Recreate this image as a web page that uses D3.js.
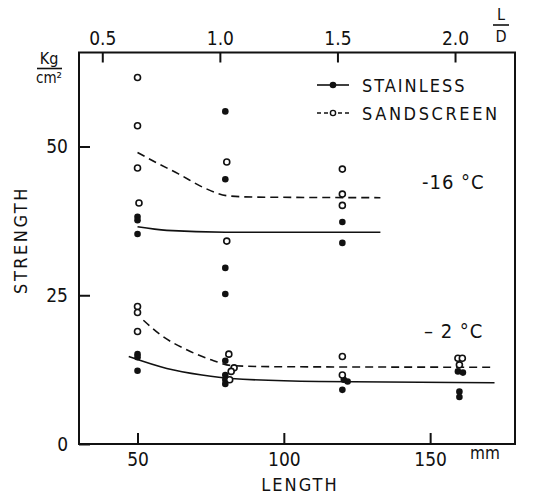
<!DOCTYPE html>
<html>
<head>
<meta charset="utf-8">
<script src="https://cdn.jsdelivr.net/npm/d3@7"></script>
<style>
  body { margin: 0; background: #fff; }
  svg text { font-family: "DejaVu Sans Condensed", "Liberation Sans Narrow", "DejaVu Sans", sans-serif; fill: #111; }
</style>
</head>
<body>
<svg id="chart" width="534" height="496"></svg>
<script>
// measured points, [length mm, strength kg/cm2]
const stainless = [
  [50, 38.2], [50, 37.6], [50, 35.3], [50, 15.1], [50, 14.6], [50, 12.3],
  [80, 55.9], [80, 44.5], [80, 29.6], [80, 25.2], [80, 14.0], [80, 11.6], [80, 10.8], [80, 10.1],
  [120, 37.3], [120, 33.8], [120.5, 10.8], [121.8, 10.5], [120, 9.1],
  [159.5, 12.2], [161.2, 12.0], [160, 8.8], [160, 7.9]
];
const sandscreen = [
  [50, 61.6], [50, 53.5], [50, 46.4], [50.5, 40.5], [50, 23.1], [50, 22.1], [50, 18.9],
  [80.5, 47.4], [80.5, 34.1], [81.2, 15.1], [83, 12.8], [82, 12.2], [81.5, 10.8],
  [120, 46.2], [120, 42.0], [120, 40.1], [120, 14.7], [120, 11.6],
  [159.5, 14.4], [161, 14.4], [160, 13.3]
];
// hand drawn fitted curves
const stainless16 = [[50, 36.5], [60, 35.9], [80, 35.6], [133, 35.6]];
const sandscreen16 = [[50, 49.0], [56, 47.4], [64, 45.4], [73, 43.0], [81, 41.7], [90, 41.5], [133, 41.4]];
const stainless2 = [[47, 14.7], [60, 12.7], [72, 11.6], [82, 11.0], [112, 10.5], [172, 10.3]];
const sandscreen2 = [[52, 20.8], [58, 18.3], [67, 15.8], [76, 14.0], [82, 13.2], [95, 13.0], [172, 12.9]];

const lengthTicks = [50, 100, 150];
const ratioTicks = [0.5, 1.0, 1.5, 2.0];
const strengthTicks = [0, 25, 50];

const svg = d3.select("#chart");
const mLeft = 79, mRight = 515, mTop = 52.5, mBottom = 444;

const x = d3.scaleLinear().domain([30, 179]).range([mLeft, mRight]);
const xTop = d3.scaleLinear().domain([0.401, 2.255]).range([mLeft, mRight]);
const y = d3.scaleLinear().domain([0, 65.8]).range([mBottom, mTop]);

// frame
svg.append("rect")
  .attr("x", mLeft).attr("y", mTop)
  .attr("width", mRight - mLeft).attr("height", mBottom - mTop)
  .attr("fill", "none").attr("stroke", "#111").attr("stroke-width", 2);

const styleAxis = g => {
  g.select(".domain").remove();
  g.selectAll(".tick line").attr("stroke", "#111").attr("stroke-width", 2);
  g.selectAll(".tick text").attr("font-size", 19).attr("fill", "#111")
    .style("font-family", '"DejaVu Sans Condensed", "Liberation Sans Narrow", "DejaVu Sans", sans-serif');
};

svg.append("g")
  .attr("transform", `translate(0,${mBottom})`)
  .call(d3.axisBottom(x).tickValues(lengthTicks).tickSizeInner(-11).tickSizeOuter(0).tickPadding(9))
  .call(styleAxis);

svg.append("g")
  .attr("transform", `translate(0,${mTop})`)
  .call(d3.axisTop(xTop).tickValues(ratioTicks).tickFormat(d3.format(".1f")).tickSizeInner(-10).tickSizeOuter(0).tickPadding(8))
  .call(styleAxis);

svg.append("g")
  .attr("transform", `translate(${mLeft},0)`)
  .call(d3.axisLeft(y).tickValues(strengthTicks).tickSizeInner(-11).tickSizeOuter(0).tickPadding(11))
  .call(styleAxis);

// axis titles
svg.append("text").attr("x", 300).attr("y", 491)
  .attr("text-anchor", "middle").attr("font-size", 18).attr("letter-spacing", 2)
  .text("LENGTH");
svg.append("text")
  .attr("transform", "translate(27,240) rotate(-90)")
  .attr("text-anchor", "middle").attr("font-size", 18).attr("letter-spacing", 2.5)
  .text("STRENGTH");
svg.append("text").attr("x", 485).attr("y", 459)
  .attr("text-anchor", "middle").attr("font-size", 17).text("mm");

// unit fractions
svg.append("text").attr("x", 49).attr("y", 64).attr("text-anchor", "middle").attr("font-size", 16).text("Kg");
svg.append("line").attr("x1", 37).attr("x2", 62).attr("y1", 68.5).attr("y2", 68.5).attr("stroke", "#111").attr("stroke-width", 1.6);
svg.append("text").attr("x", 49).attr("y", 83).attr("text-anchor", "middle").attr("font-size", 15).text("cm²");
svg.append("text").attr("x", 501).attr("y", 20).attr("text-anchor", "middle").attr("font-size", 16).text("L");
svg.append("line").attr("x1", 493).attr("x2", 509).attr("y1", 25).attr("y2", 25).attr("stroke", "#111").attr("stroke-width", 1.6);
svg.append("text").attr("x", 501).attr("y", 42).attr("text-anchor", "middle").attr("font-size", 16).text("D");

// temperature labels
svg.append("text").attr("x", 422).attr("y", 189).attr("font-size", 20).attr("letter-spacing", 1).text("-16 °C");
svg.append("text").attr("x", 424).attr("y", 338).attr("font-size", 20).attr("letter-spacing", 1).text("–  2 °C");

// curves
const line = d3.line().x(d => x(d[0])).y(d => y(d[1])).curve(d3.curveMonotoneX);
const curves = [
  { data: stainless16, dash: null },
  { data: sandscreen16, dash: "8,5" },
  { data: stainless2, dash: null },
  { data: sandscreen2, dash: "8,5" }
];
svg.selectAll("path.fit").data(curves).join("path")
  .attr("class", "fit")
  .attr("d", d => line(d.data))
  .attr("fill", "none").attr("stroke", "#111").attr("stroke-width", 1.6)
  .attr("stroke-dasharray", d => d.dash);

// points
svg.selectAll("circle.st").data(stainless).join("circle")
  .attr("class", "st")
  .attr("cx", d => x(d[0])).attr("cy", d => y(d[1])).attr("r", 3.3)
  .attr("fill", "#111");
svg.selectAll("circle.sa").data(sandscreen).join("circle")
  .attr("class", "sa")
  .attr("cx", d => x(d[0])).attr("cy", d => y(d[1])).attr("r", 3)
  .attr("fill", "#fff").attr("stroke", "#111").attr("stroke-width", 1.6);

// legend
const legend = svg.append("g").attr("transform", "translate(317,85)");
legend.append("line").attr("x1", 0).attr("x2", 32).attr("y1", 0).attr("y2", 0).attr("stroke", "#111").attr("stroke-width", 1.6);
legend.append("circle").attr("cx", 16).attr("cy", 0).attr("r", 3.3).attr("fill", "#111");
legend.append("text").attr("x", 45).attr("y", 6.5).attr("font-size", 18).attr("letter-spacing", 2).text("STAINLESS");
legend.append("line").attr("x1", 0).attr("x2", 32).attr("y1", 28).attr("y2", 28).attr("stroke", "#111").attr("stroke-width", 1.3).attr("stroke-dasharray", "4,3");
legend.append("circle").attr("cx", 16).attr("cy", 28).attr("r", 2.6).attr("fill", "#fff").attr("stroke", "#111").attr("stroke-width", 1.4);
legend.append("text").attr("x", 45).attr("y", 34.5).attr("font-size", 18).attr("letter-spacing", 2.6).text("SANDSCREEN");
</script>
</body>
</html>
